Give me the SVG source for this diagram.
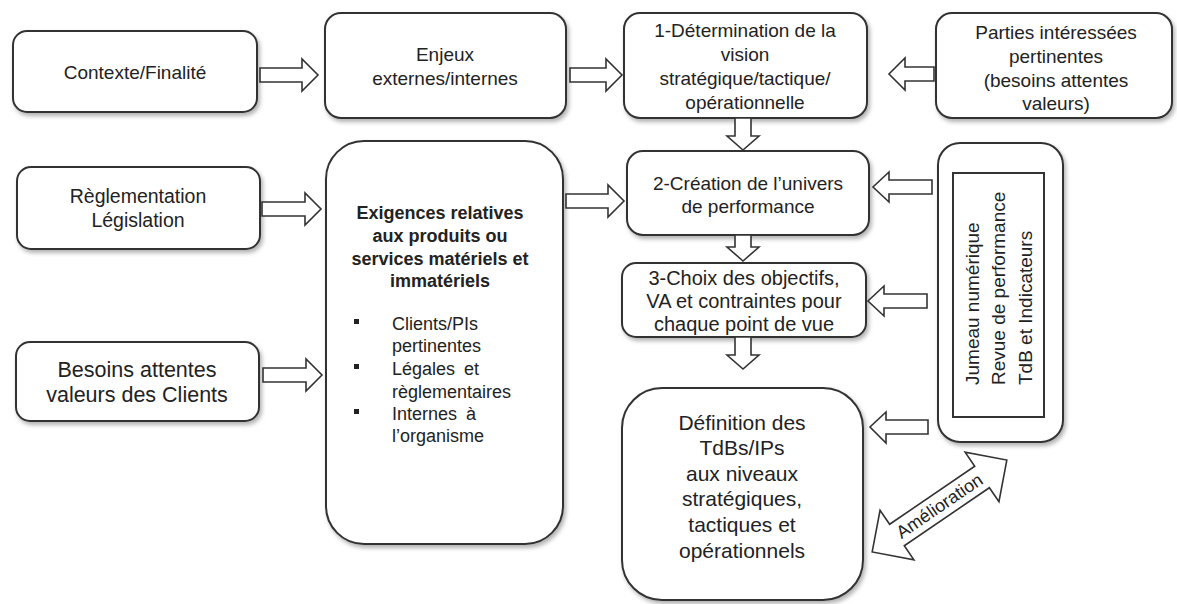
<svg xmlns="http://www.w3.org/2000/svg" width="1177" height="604" viewBox="0 0 1177 604">
<defs>
<filter id="sh" x="-10%" y="-10%" width="125%" height="125%">
<feDropShadow dx="2" dy="3" stdDeviation="2" flood-color="#000" flood-opacity="0.3"/>
</filter>
<style>
.box{fill:#fff;stroke:#333;stroke-width:2;filter:url(#sh)}
.inner{fill:#fff;stroke:#333;stroke-width:2}
.arr{fill:#fff;stroke:#333;stroke-width:1.6;stroke-linejoin:miter}
.t{font-family:"Liberation Sans",Arial,sans-serif;fill:#222;text-anchor:middle;font-size:19px}
.b{font-weight:bold;font-size:18px}
.l{text-anchor:start;font-size:18px}
.bul{fill:#222}
</style>
</defs>
<rect width="1177" height="604" fill="#fff"/>

<g id="contexte">
<rect class="box" x="13" y="31" width="244" height="81" rx="14"/>
<text class="t" x="135" y="79">Contexte/Finalité</text>
</g>

<g id="enjeux">
<rect class="box" x="325" y="13" width="241" height="105" rx="16"/>
<text class="t" x="445" y="61">Enjeux</text>
<text class="t" x="445" y="85">externes/internes</text>
</g>

<g id="vision">
<rect class="box" x="624" y="13" width="243" height="105" rx="16"/>
<text class="t" x="745" y="37">1-Détermination de la</text>
<text class="t" x="745" y="61">vision</text>
<text class="t" x="745" y="85">stratégique/tactique/</text>
<text class="t" x="745" y="109">opérationnelle</text>
</g>

<g id="parties">
<rect class="box" x="936" y="13" width="236" height="105" rx="16"/>
<text class="t" x="1056" y="39">Parties intéressées</text>
<text class="t" x="1056" y="63">pertinentes</text>
<text class="t" x="1056" y="87">(besoins attentes</text>
<text class="t" x="1056" y="110">valeurs)</text>
</g>

<g id="reglementation">
<rect class="box" x="17" y="167" width="243" height="82" rx="14"/>
<text class="t" x="138" y="203" style="font-size:19.5px">Règlementation</text>
<text class="t" x="138" y="227" style="font-size:19.5px">Législation</text>
</g>

<g id="besoins">
<rect class="box" x="16" y="342" width="243" height="79" rx="14"/>
<text class="t" x="137" y="377" style="font-size:21.5px">Besoins attentes</text>
<text class="t" x="137" y="402" style="font-size:21.5px">valeurs des Clients</text>
</g>

<g id="exigences">
<rect class="box" x="326" y="141" width="237" height="403" rx="38"/>
<text class="t b" x="440" y="218.5">Exigences relatives</text>
<text class="t b" x="440" y="241.5">aux produits ou</text>
<text class="t b" x="440" y="264.5">services matériels et</text>
<text class="t b" x="440" y="286.5">immatériels</text>
<rect class="bul" x="354" y="319" width="5" height="5"/>
<rect class="bul" x="354" y="364" width="5" height="5"/>
<rect class="bul" x="354" y="409" width="5" height="5"/>
<text class="t l" x="392" y="329.5">Clients/PIs</text>
<text class="t l" x="392" y="351.5">pertinentes</text>
<text class="t l" x="392" y="374.5" style="word-spacing:4px">Légales et</text>
<text class="t l" x="392" y="397.5">règlementaires</text>
<text class="t l" x="392" y="419.5" style="word-spacing:4px">Internes à</text>
<text class="t l" x="392" y="441.5">l’organisme</text>
</g>

<g id="univers">
<rect class="box" x="627" y="151" width="242" height="84" rx="16"/>
<text class="t" x="748" y="190">2-Création de l’univers</text>
<text class="t" x="748" y="213">de performance</text>
</g>

<g id="objectifs">
<rect class="box" x="622" y="263" width="244" height="74" rx="14"/>
<text class="t" x="744" y="285" style="font-size:20px">3-Choix des objectifs,</text>
<text class="t" x="744" y="308" style="font-size:20px">VA et contraintes pour</text>
<text class="t" x="744" y="331" style="font-size:20px">chaque point de vue</text>
</g>

<g id="definition">
<rect class="box" x="622" y="388" width="241" height="212" rx="40"/>
<text class="t" x="742" y="429.5" style="font-size:21px">Définition des</text>
<text class="t" x="742" y="454.5" style="font-size:21px">TdBs/IPs</text>
<text class="t" x="742" y="480.5" style="font-size:21px">aux niveaux</text>
<text class="t" x="742" y="505.5" style="font-size:21px">stratégiques,</text>
<text class="t" x="742" y="531.5" style="font-size:21px">tactiques et</text>
<text class="t" x="742" y="557.5" style="font-size:21px">opérationnels</text>
</g>

<g id="jumeau">
<rect class="box" x="938" y="143" width="125" height="299" rx="22"/>
<rect class="inner" x="953" y="173" width="91" height="244"/>
<text class="t" style="text-anchor:start" transform="translate(979,385) rotate(-90)">Jumeau numérique</text>
<text class="t" style="text-anchor:start" transform="translate(1005,385) rotate(-90)">Revue de performance</text>
<text class="t" style="text-anchor:start" transform="translate(1032,385) rotate(-90)">TdB et Indicateurs</text>
</g>

<g id="connectors">
<path class="arr" d="M260,68 L302,68 L302,59 L318,75 L302,91 L302,82 L260,82 Z"/>
<path class="arr" d="M570,68 L606,68 L606,59 L622,75 L606,91 L606,82 L570,82 Z"/>
<path class="arr" d="M934,67 L905,67 L905,58 L889,74 L905,90 L905,81 L934,81 Z"/>
<path class="arr" d="M262,202 L305,202 L305,193 L321,209 L305,225 L305,216 L262,216 Z"/>
<path class="arr" d="M263,368 L306,368 L306,359 L322,375 L306,391 L306,382 L263,382 Z"/>
<path class="arr" d="M566,194 L608,194 L608,185 L624,201 L608,217 L608,208 L566,208 Z"/>
<path class="arr" d="M932,180 L889,180 L889,172 L873,187 L889,202 L889,194 L932,194 Z"/>
<path class="arr" d="M927,294 L884,294 L884,286 L868,301 L884,316 L884,308 L927,308 Z"/>
<path class="arr" d="M928,420 L886,420 L886,412 L870,427 L886,443 L886,434 L928,434 Z"/>
<path class="arr" d="M735,118 L735,136 L727,136 L743,150 L759,136 L751,136 L751,118 Z"/>
<path class="arr" d="M735,235 L735,247 L727,247 L743,261 L759,247 L751,247 L751,235 Z"/>
<path class="arr" d="M735,337 L735,355 L727,355 L743,369 L759,355 L751,355 L751,337 Z"/>
<g transform="translate(939.5,506) rotate(-34.3)">
<path class="arr" d="M-81.5,0 L-51.5,-30 L-51.5,-13 L51.5,-13 L51.5,-30 L81.5,0 L51.5,30 L51.5,13 L-51.5,13 L-51.5,30 Z"/>
<text class="t" x="0" y="6" style="font-size:18px">Amélioration</text>
</g>
</g>
</svg>
